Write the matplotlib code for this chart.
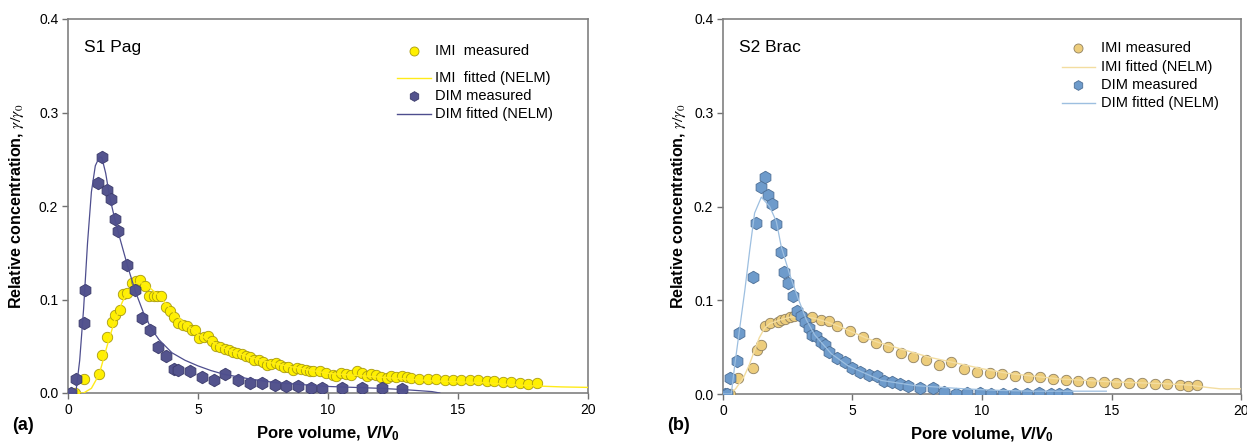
import numpy as np
import matplotlib
matplotlib.use("Agg")
from matplotlib import pyplot as plt

plt.rcParams['font.family'] = ['Liberation Sans', 'DejaVu Sans']
plt.rcParams['mathtext.fontset'] = 'custom'
plt.rcParams['mathtext.it'] = 'Liberation Sans:bold:italic'
plt.rcParams['mathtext.rm'] = 'Liberation Sans:bold'
plt.rcParams['mathtext.bf'] = 'Liberation Sans:bold'

# ---- (a) S1 Pag ----
a_dim_x = [0.13, 0.30, 0.60, 0.65, 1.15, 1.31, 1.49, 1.64, 1.80, 1.94, 2.26, 2.57, 2.86, 3.17,
           3.48, 3.78, 4.08, 4.23, 4.69, 5.17, 5.60, 6.05, 6.55, 7.0, 7.46, 7.95, 8.4, 8.85,
           9.33, 9.78, 10.54, 11.31, 12.09, 12.86]
a_dim_y = [0.0, 0.015, 0.075, 0.110, 0.225, 0.252, 0.217, 0.207, 0.186, 0.173, 0.137, 0.110,
           0.080, 0.067, 0.049, 0.040, 0.026, 0.025, 0.024, 0.017, 0.014, 0.020, 0.014, 0.011,
           0.011, 0.009, 0.007, 0.007, 0.0055, 0.005, 0.005, 0.0055, 0.005, 0.0045]
a_dim_fit_x = [0, 0.3, 0.45, 0.6, 0.75, 0.9, 1.05, 1.2, 1.3, 1.45, 1.6, 1.8, 2.0, 2.3, 2.6, 2.9,
               3.2, 3.5, 4.0, 4.5, 5.0, 5.5, 6.0, 7, 8, 9, 10, 11, 12, 13, 14, 14.3]
a_dim_fit_y = [0, 0.0, 0.035, 0.09, 0.16, 0.215, 0.243, 0.252, 0.252, 0.235, 0.21, 0.186, 0.165,
               0.135, 0.108, 0.086, 0.069, 0.057, 0.043, 0.035, 0.029, 0.024, 0.02, 0.015, 0.011,
               0.009, 0.007, 0.006, 0.005, 0.0035, 0.0015, 0.0]
a_imi_x = [0.26, 0.6, 1.18, 1.32, 1.51, 1.68, 1.8, 1.99, 2.12, 2.28, 2.45, 2.60, 2.77, 2.95, 3.12,
           3.30, 3.44, 3.58, 3.76, 3.91, 4.08, 4.24, 4.44, 4.59, 4.76, 4.9, 5.04, 5.22, 5.37,
           5.53, 5.69, 5.86, 6.03, 6.19, 6.35, 6.51, 6.68, 6.83, 7.0, 7.17, 7.33, 7.5, 7.66,
           7.82, 7.99, 8.14, 8.31, 8.48, 8.64, 8.81, 8.98, 9.14, 9.3, 9.43, 9.68, 9.94, 10.2,
           10.32, 10.51, 10.7, 10.9, 11.1, 11.3, 11.5, 11.67, 11.86, 12.05, 12.25, 12.44, 12.63,
           12.83, 13.03, 13.2, 13.5, 13.85, 14.17, 14.5, 14.8, 15.13, 15.45, 15.77, 16.1, 16.4,
           16.73, 17.05, 17.37, 17.7, 18.04]
a_imi_y = [0.0, 0.015, 0.020, 0.041, 0.060, 0.076, 0.083, 0.089, 0.106, 0.107, 0.118, 0.120,
           0.121, 0.114, 0.104, 0.104, 0.104, 0.104, 0.092, 0.088, 0.081, 0.075, 0.073, 0.072,
           0.067, 0.067, 0.059, 0.060, 0.061, 0.056, 0.050, 0.049, 0.047, 0.046, 0.044, 0.043,
           0.042, 0.040, 0.038, 0.035, 0.035, 0.033, 0.030, 0.031, 0.032, 0.030, 0.028, 0.028,
           0.025, 0.027, 0.026, 0.025, 0.024, 0.024, 0.023, 0.021, 0.019, 0.018, 0.021, 0.020,
           0.019, 0.023, 0.021, 0.018, 0.020, 0.019, 0.017, 0.016, 0.018, 0.017, 0.018, 0.017,
           0.016, 0.015, 0.0155, 0.015, 0.0144, 0.0137, 0.014, 0.0137, 0.0137, 0.013, 0.0124,
           0.0117, 0.0117, 0.011, 0.010, 0.0104]
a_imi_fit_x = [0, 0.6, 0.9, 1.2, 1.5, 1.8, 2.1, 2.4, 2.7, 3.0, 3.5, 4, 4.5, 5, 6, 7, 8, 9, 10,
               11, 12, 13, 14, 15, 16, 17, 18, 19, 20]
a_imi_fit_y = [0, 0, 0.005, 0.02, 0.05, 0.078, 0.098, 0.112, 0.119, 0.116, 0.104, 0.088, 0.074,
               0.063, 0.048, 0.038, 0.031, 0.026, 0.021, 0.019, 0.017, 0.015, 0.013, 0.012,
               0.011, 0.009, 0.0075, 0.0065, 0.006]

# ---- (b) S2 Brac ----
b_dim_x = [0.07, 0.17, 0.26, 0.55, 0.62, 1.15, 1.29, 1.46, 1.61, 1.75, 1.91, 2.06, 2.23, 2.36,
           2.52, 2.69, 2.86, 3.0, 3.15, 3.31, 3.44, 3.61, 3.77, 3.93, 4.08, 4.39, 4.7, 5.0, 5.3,
           5.63, 5.93, 6.22, 6.52, 6.84, 7.14, 7.62, 8.09, 8.54, 9.0, 9.42, 9.91, 10.36, 10.81,
           11.29, 11.75, 12.2, 12.68, 12.98, 13.28]
b_dim_y = [0.0, 0.0, 0.017, 0.035, 0.065, 0.125, 0.182, 0.221, 0.231, 0.2125, 0.203, 0.181,
           0.151, 0.130, 0.118, 0.105, 0.089, 0.083, 0.077, 0.070, 0.063, 0.062, 0.055, 0.052,
           0.045, 0.038, 0.034, 0.028, 0.023, 0.020, 0.019, 0.014, 0.013, 0.011, 0.0086, 0.0061,
           0.0061, 0.0025, 0.0005, 0.0015, 0.001, 0.0, 0.0, 0.0, 0.0, 0.001, 0.0, 0.0, 0.0]
b_dim_fit_x = [0, 0.32, 0.45, 0.62, 0.84, 1.03, 1.22, 1.48, 1.8, 2.06, 2.25, 2.57, 2.9, 3.22,
               3.54, 4.18, 4.83, 6.11, 7.4, 9.33, 10.5, 12, 13.5, 14.8]
b_dim_fit_y = [0, 0, 0.03, 0.065, 0.11, 0.153, 0.193, 0.21, 0.2, 0.184, 0.157, 0.128, 0.102,
               0.079, 0.063, 0.043, 0.030, 0.0145, 0.009, 0.0055, 0.004, 0.003, 0.003, 0.003]
b_imi_x = [0.13, 0.26, 0.58, 1.17, 1.30, 1.48, 1.62, 1.80, 2.11, 2.25, 2.41, 2.57, 2.74, 3.05,
           3.45, 3.77, 4.09, 4.42, 4.9, 5.39, 5.89, 6.37, 6.86, 7.35, 7.85, 8.33, 8.82, 9.29,
           9.81, 10.3, 10.79, 11.28, 11.78, 12.25, 12.74, 13.23, 13.72, 14.22, 14.72, 15.19,
           15.68, 16.17, 16.67, 17.16, 17.63, 17.96, 18.29]
b_imi_y = [0.0, 0.0, 0.017, 0.028, 0.047, 0.052, 0.0725, 0.076, 0.077, 0.079, 0.080, 0.082,
           0.083, 0.083, 0.082, 0.079, 0.078, 0.073, 0.067, 0.061, 0.054, 0.050, 0.044, 0.039,
           0.036, 0.031, 0.034, 0.027, 0.024, 0.0228, 0.021, 0.019, 0.018, 0.018, 0.016, 0.015,
           0.0143, 0.0133, 0.013, 0.012, 0.012, 0.0115, 0.011, 0.011, 0.010, 0.009, 0.010]
b_imi_fit_x = [0, 0.3, 0.5, 0.8, 1.0, 1.2, 1.4, 1.6, 1.8, 2.2, 2.6, 3.0, 3.5, 4, 4.5, 5, 5.5,
               6, 6.5, 7, 7.5, 8, 9, 10, 11, 12, 13, 14, 15, 16, 17, 18, 18.7, 19.2, 20]
b_imi_fit_y = [0, 0, 0.006, 0.018, 0.03, 0.045, 0.06, 0.07, 0.075, 0.079, 0.082, 0.083, 0.081,
               0.077, 0.072, 0.066, 0.060, 0.055, 0.051, 0.047, 0.043, 0.039, 0.033, 0.027,
               0.022, 0.019, 0.016, 0.0145, 0.013, 0.012, 0.011, 0.0095, 0.007, 0.0055, 0.0055]

panels = [
    dict(rect=[68/1247, 50/443, 520/1247, 374/443], name='S1 Pag', tag='(a)', tagx=12/1247,
         imi=(a_imi_x, a_imi_y), imi_fit=(a_imi_fit_x, a_imi_fit_y),
         dim=(a_dim_x, a_dim_y), dim_fit=(a_dim_fit_x, a_dim_fit_y),
         imi_fc='#FFF000', imi_ec='#A89A10', imi_lc='#FFEB1A',
         dim_fc='#54548E', dim_ec='#3A3A6A', dim_lc='#4E4E8E',
         labels=['IMI  measured', 'IMI  fitted (NELM)', 'DIM measured', 'DIM fitted (NELM)'],
         leg_x=(0.633, 0.698, 0.665, 0.706), leg_y=(0.914, 0.842, 0.794, 0.746), ypad=9),
    dict(rect=[723/1247, 49/443, 518/1247, 375/443], name='S2 Brac', tag='(b)', tagx=667/1247,
         imi=(b_imi_x, b_imi_y), imi_fit=(b_imi_fit_x, b_imi_fit_y),
         dim=(b_dim_x, b_dim_y), dim_fit=(b_dim_fit_x, b_dim_fit_y),
         imi_fc='#EDCD7C', imi_ec='#8F8060', imi_lc='#F3DDA0',
         dim_fc='#6E9BCB', dim_ec='#4D6F96', dim_lc='#9DBFE0',
         labels=['IMI measured', 'IMI fitted (NELM)', 'DIM measured', 'DIM fitted (NELM)'],
         leg_x=(0.654, 0.718, 0.685, 0.730), leg_y=(0.923, 0.872, 0.824, 0.776), ypad=4),
]

fig = plt.figure(figsize=(12.47, 4.43), dpi=100)

for p in panels:
    ax = fig.add_axes(p['rect'])
    ax.plot(*p['imi'], linestyle='none', marker='o', ms=7.5, mfc=p['imi_fc'], mec=p['imi_ec'],
            mew=0.6, zorder=3)
    ax.plot(*p['imi_fit'], color=p['imi_lc'], lw=1.0, zorder=4)
    ax.plot(*p['dim'], linestyle='none', marker='h', ms=9, mfc=p['dim_fc'], mec=p['dim_ec'],
            mew=0.6, zorder=5)
    ax.plot(*p['dim_fit'], color=p['dim_lc'], lw=0.9, zorder=6)

    ax.set_xlim(0, 20)
    ax.set_ylim(0, 0.4)
    ax.set_xticks([0, 5, 10, 15, 20])
    ax.set_yticks([0.0, 0.1, 0.2, 0.3, 0.4])
    ax.set_yticklabels(['0.0', '0.1', '0.2', '0.3', '0.4'])
    ax.tick_params(direction='out', length=4, width=1, color='#707070', labelsize=10, pad=3)
    for s in ax.spines.values():
        s.set_color('#808080')
        s.set_linewidth(1.2)

    ax.set_xlabel(r'Pore volume, $V/V_0$', fontsize=12, fontweight='bold', labelpad=6)
    ax.set_ylabel(r'Relative concentration, $\gamma/\gamma_0$', fontsize=11.5,
                  fontweight='bold', labelpad=p['ypad'], math_fontfamily='stix')
    ax.text(0.03, 0.925, p['name'], transform=ax.transAxes, fontsize=12.5, va='center')

    # legend drawn by hand (uneven row spacing)
    lx0, lx1, mx, tx = p['leg_x']
    ys = p['leg_y']
    ax.plot([mx], [ys[0]], transform=ax.transAxes, marker='o', ms=6.5, mfc=p['imi_fc'],
            mec=p['imi_ec'], mew=0.6, linestyle='none')
    ax.plot([lx0, lx1], [ys[1], ys[1]], transform=ax.transAxes, color=p['imi_lc'], lw=1.0)
    ax.plot([mx], [ys[2]], transform=ax.transAxes, marker='h', ms=7, mfc=p['dim_fc'],
            mec=p['dim_ec'], mew=0.6, linestyle='none')
    ax.plot([lx0, lx1], [ys[3], ys[3]], transform=ax.transAxes, color=p['dim_lc'], lw=1.0)
    for lab, yy in zip(p['labels'], ys):
        ax.text(tx, yy, lab, transform=ax.transAxes, fontsize=10.5, va='center')

    fig.text(p['tagx'], 18/443, p['tag'], fontsize=13, fontweight='bold', va='center')

fig.savefig('out.png', dpi=100)
